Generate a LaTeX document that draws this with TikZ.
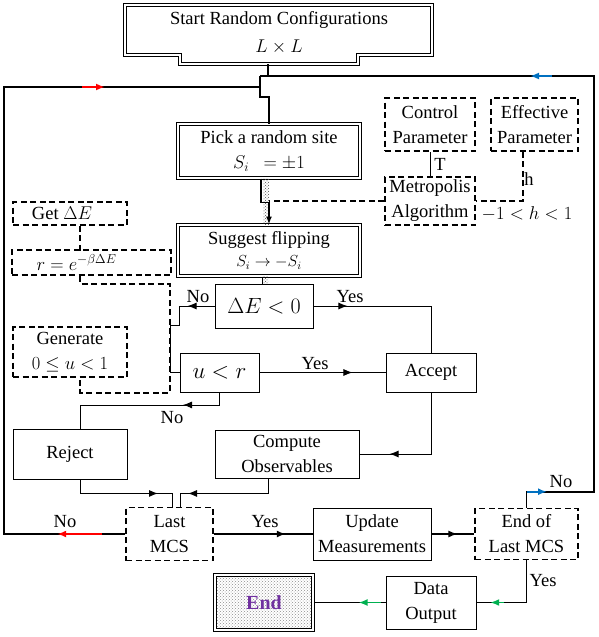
\documentclass[tikz,border=0pt]{standalone}
\usepackage{fix-cm}
\usepackage{fontspec}
\setmainfont{Liberation Serif}
\usetikzlibrary{arrows.meta,decorations.markings,patterns}
\definecolor{blueC}{HTML}{0070C0}
\definecolor{greenC}{HTML}{00B050}
\definecolor{endpurple}{HTML}{7030A0}
\begin{document}
\begin{tikzpicture}[x=1pt, y=-1pt, font=\fontsize{18.5}{25}\selectfont,
  box/.style={draw, line width=0.9pt, inner sep=0pt, align=center},
  dbox/.style={box, double, double distance=2pt, line width=1pt},
  dashbox/.style={box, line width=1.6pt, dash pattern=on 6pt off 3.5pt},
  dashline/.style={line width=1.6pt, dash pattern=on 6pt off 3.5pt},
  lbl/.style={inner sep=1pt},
  heavy/.style={line width=1.6pt},
  light/.style={line width=0.9pt},
  tip/.style={postaction={decorate, decoration={markings, mark=at position #1 with {\arrow{Latex[length=9pt,width=7pt]}}}}},
  ctip/.style n args={3}{postaction={decorate, decoration={markings, mark=at position #1 with {\draw[#2, line width=1.8pt, -{Latex[length=9pt,width=7pt]}] (-#3,0) -- (0,0);}}}}]
\useasboundingbox (0,0) rectangle (598,637);
\draw[double, double distance=2pt, line width=1pt] (125,5) -- (432,5) -- (432,55) -- (358,55) -- (358,64) -- (180,64) -- (180,55) -- (125,55) -- cycle;
\node[align=center, inner sep=0pt] (start) at (279,33) {Start Random Configurations\\[3pt]$L\times L$};
\coordinate (startb) at (268,64);
\coordinate (jtop) at (260,76);
\coordinate (jleft) at (260,87);
\coordinate (leftc) at (4,87);
\coordinate (topright) at (594,76);
\node[dbox, minimum width=182, minimum height=54] (pick) at (269,151) {Pick a random site\\$S_i\ \ =\pm1$\hspace{22pt}};
\node[dbox, minimum width=182, minimum height=51] (suggest) at (269,250.5) {Suggest flipping\\[-3pt]{\fontsize{16}{20}\selectfont$S_i\to -S_i$}\hspace{32pt}};
\node[box, minimum width=98, minimum height=44, font=\fontsize{22}{26}\selectfont] (dE) at (264,306) {$\Delta E<0$};
\node[box, minimum width=79, minimum height=39, font=\fontsize{23}{26}\selectfont] (uLr) at (219.5,372.5) {$u<r$};
\node[box, minimum width=90, minimum height=39] (accept) at (431,372.5) {Accept};
\node[box, minimum width=144, minimum height=48] (compute) at (287,454) {Compute\\Observables};
\node[box, minimum width=114, minimum height=50] (reject) at (70,454) {Reject};
\node[dashbox, minimum width=87, minimum height=53] (lastmcs) at (169.5,534) {Last\\MCS};
\node[box, minimum width=118, minimum height=52] (update) at (372,534) {Update\\Measurements};
\node[dashbox, minimum width=103, minimum height=51] (endof) at (526.5,534) {End of\\Last MCS};
\node[box, minimum width=90, minimum height=53] (data) at (431,602.5) {Data\\Output};
\node[dbox, pattern=crosshatch dots, pattern color=black!45, minimum width=98, minimum height=55, text=endpurple, font=\fontsize{20}{24}\selectfont\bfseries] (endbox) at (264,602.5) {End};
\node[dashbox, minimum width=90, minimum height=53] (control) at (430,124.5) {Control\\Parameter};
\node[dashbox, minimum width=87, minimum height=53] (effective) at (534.5,124.5) {Effective\\Parameter};
\node[dashbox, minimum width=90, minimum height=48] (metro) at (430,201) {Metropolis\\Algorithm};
\node[dashbox, minimum width=114, minimum height=23] (getdE) at (70,213.5) {Get $\Delta E$\hspace{16pt}};
\node[dashbox, minimum width=159, minimum height=25] (rbox) at (91.5,262.5) {$r=e^{-\beta\Delta E}$\hspace{30pt}};
\node[dashbox, minimum width=114, minimum height=50] (generate) at (70,352) {Generate\\$0\le u<1$\hspace{30pt}};
\node[lbl] (noA) at (198,297) {No};
\node[lbl] (yesA) at (350,297) {Yes};
\node[lbl] (yesB) at (315,364) {Yes};
\node[lbl] (noB) at (172,418) {No};
\node[lbl] (noC) at (65,522) {No};
\node[lbl] (yesC) at (265,522) {Yes};
\node[lbl] (noD) at (561,482) {No};
\node[lbl] (yesD) at (543,581) {Yes};
\node[lbl] (tlab) at (440,164) {T};
\node[lbl] (hlab) at (529,179) {h};
\node[lbl] (hrange) at (527,214) {$-1<h<1$};
\draw[heavy] (startb) -- (startb |- jtop);
\draw[heavy] (jtop) -- ++(0,21) -| (pick.north);
\draw[heavy, ctip={68pt}{red}{45}, ctip={-155pt}{red}{23}] (lastmcs.west) -| (leftc) -- (jleft);
\draw[heavy, ctip={36.5pt}{blueC}{20}, ctip={-270pt}{blueC}{22}] (endof.north) -- ++(0,-16) -| (topright) -- (jtop);
\fill[pattern=crosshatch dots, pattern color=black!70] ([xshift=-6pt]pick.south) rectangle (suggest.north);
\draw[heavy, -{Latex[length=8pt,width=6pt]}] ([xshift=-8pt]pick.south) -- ++(0,24) -| (suggest.north);
\fill[pattern=crosshatch dots, pattern color=black!70] ([xshift=-6pt]suggest.south) rectangle ([xshift=4pt]dE.north);
\draw[light] ([xshift=-7pt]suggest.south) -- ([xshift=-2pt]dE.north);
\draw[dashline] (metro.west) -- (metro.west -| suggest.north);
\draw[light] (control.south) -- (metro.north);
\draw[dashline] ([xshift=-11.5pt]effective.south) |- (metro.east);
\draw[dashline] ([xshift=10pt]getdE.south) -- ++(0,25);
\draw[dashline] ([xshift=-11.5pt]rbox.south) -- ++(0,8) -| ++(90,109) -| ([xshift=10pt]generate.south);
\draw[light, tip=27pt] (dE.west) -- ++(-35,0) |- ++(-9,19) |- (uLr.west);
\draw[light, tip=34pt] (dE.east) -| (accept.north);
\draw[light, tip=93pt] (uLr.east) -- (accept.west);
\draw[light, tip=103pt] (accept.south) |- (compute.east);
\draw[light, tip=49pt] (uLr.south) -- ++(0,12.5) -| ([xshift=10pt]reject.north);
\draw[light, tip=92pt] ([xshift=10pt]reject.south) -- ++(0,14) -| ([xshift=2.5pt]lastmcs.north);
\draw[light, tip=95pt] ([xshift=-19pt]compute.south) -- ++(0,15) -| ([xshift=10.5pt]lastmcs.north);
\draw[heavy, tip=72pt] (lastmcs.east) -- (update.west);
\draw[heavy, tip=26pt] (update.east) -- (endof.west);
\draw[heavy, ctip={78.5pt}{greenC}{14}] (endof.south) |- (data.east);
\draw[heavy, ctip={27pt}{greenC}{22}] (data.west) -- (endbox.east);
\end{tikzpicture}
\end{document}
